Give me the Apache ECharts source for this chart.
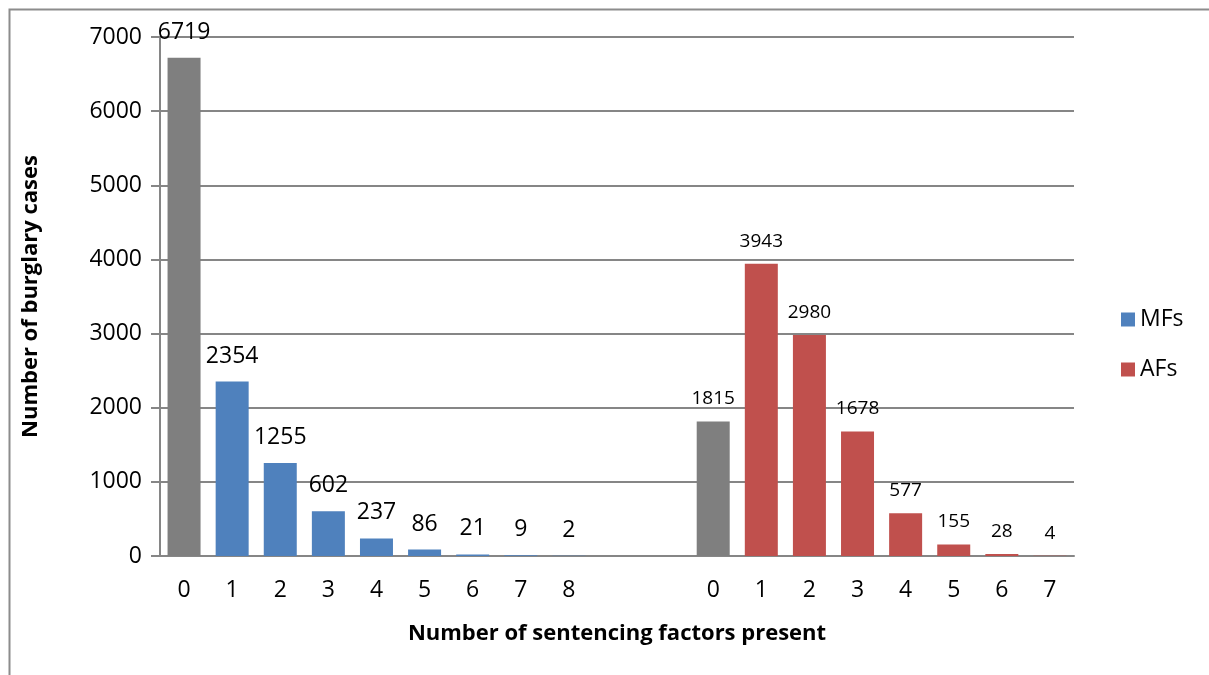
<!DOCTYPE html>
<html>
<head>
<meta charset="utf-8">
<script src="https://cdn.jsdelivr.net/npm/echarts@6/dist/echarts.min.js"></script>
<style>html,body{margin:0;padding:0;background:#fff}#c{width:1209px;height:675px}</style>
</head>
<body>
<div id="c"></div>
<script>
const categories = ['0','1','2','3','4','5','6','7','8','','','0','1','2','3','4','5','6','7'];
const mfValues = [6719, 2354, 1255, 602, 237, 86, 21, 9, 2];
const afValues = [1815, 3943, 2980, 1678, 577, 155, 28, 4];
const yTicks = [0, 1000, 2000, 3000, 4000, 5000, 6000, 7000];

const GRAY = '#7F7F7F', BLUE = '#4F81BD', RED = '#C0504D';
const FONT = 'Open Sans';

const afOffset = categories.length - afValues.length;
const mfData = categories.map((c, i) => {
  if (i < mfValues.length) {
    return i === 0 ? { value: mfValues[i], itemStyle: { color: GRAY } } : mfValues[i];
  }
  return '-';
});
const afData = categories.map((c, i) => {
  const j = i - afOffset;
  if (j >= 0) {
    return j === 0 ? { value: afValues[j], itemStyle: { color: GRAY } } : afValues[j];
  }
  return '-';
});

const chart = echarts.init(document.getElementById('c'));
chart.setOption({
  animation: false,
  backgroundColor: '#fff',
  textStyle: { fontFamily: FONT },
  graphic: [{
    type: 'rect', left: 7, top: 7,
    shape: { width: 1400, height: 900 },
    style: { fill: 'none', stroke: '#8C8C8C', lineWidth: 2 }
  }],
  grid: { left: 160, right: 135, top: 37, bottom: 119 },
  legend: {
    orient: 'vertical', left: 1116, top: 303,
    itemWidth: 14, itemHeight: 14, itemGap: 27,
    icon: 'rect',
    textStyle: { fontFamily: FONT, fontSize: 23, color: '#000' },
    data: ['MFs', 'AFs']
  },
  xAxis: {
    type: 'category', data: categories,
    name: 'Number of sentencing factors present',
    nameLocation: 'middle', nameGap: 67,
    nameTextStyle: { fontFamily: FONT, fontSize: 22, fontWeight: 'bold', color: '#000' },
    axisLine: { lineStyle: { color: '#868686', width: 2 } },
    axisTick: { show: false },
    axisLabel: { fontFamily: FONT, fontSize: 23, color: '#000', margin: 23, interval: 0 }
  },
  yAxis: {
    type: 'value', min: yTicks[0], max: yTicks[yTicks.length - 1], interval: 1000,
    name: 'Number of burglary cases',
    nameLocation: 'middle', nameGap: 118,
    nameTextStyle: { fontFamily: FONT, fontSize: 22, fontWeight: 'bold', color: '#000' },
    axisLine: { show: true, lineStyle: { color: '#868686', width: 2 } },
    axisTick: { show: true, length: 9, lineStyle: { color: '#868686', width: 2 } },
    axisLabel: { fontFamily: FONT, fontSize: 23, color: '#000', margin: 18, formatter: v => String(v) },
    splitLine: { lineStyle: { color: '#868686', width: 2 } }
  },
  series: [
    {
      name: 'MFs', type: 'bar', stack: 'g', data: mfData, barWidth: 33,
      itemStyle: { color: BLUE },
      label: { show: true, position: 'top', distance: 14, fontFamily: FONT, fontSize: 23, color: '#000' }
    },
    {
      name: 'AFs', type: 'bar', stack: 'g', data: afData, barWidth: 33,
      itemStyle: { color: RED },
      label: { show: true, position: 'top', distance: 13, fontFamily: FONT, fontSize: 19, color: '#000' }
    }
  ]
});
</script>
</body>
</html>
